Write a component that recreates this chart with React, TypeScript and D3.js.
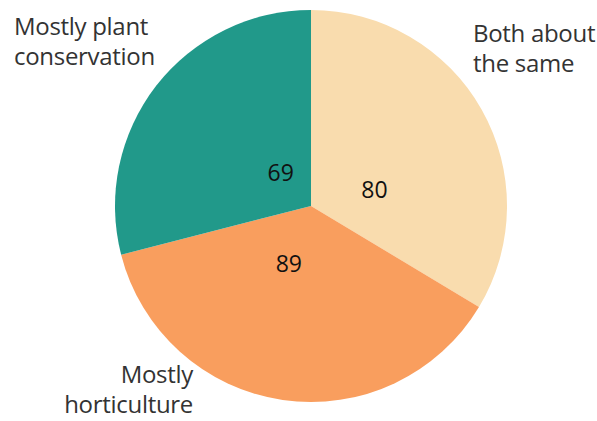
import React, { useEffect } from "react";
import * as d3 from "d3";

// Responses: which should botanic gardens focus on?
const categories = ["Both about the same", "Mostly horticulture", "Mostly plant conservation"];
const values = [80, 89, 69];
const colors = ["#f9dcae", "#f99e5e", "#21998a"];

// Outer label lines per category
const labelLines = [["Both about", "the same"], ["Mostly", "horticulture"], ["Mostly plant", "conservation"]];

const W = 597;
const H = 421;
const cx = 311;
const cy = 206;
const R = 196;

// Text placement for the category and value labels
const outerLabelLayout = [
  { x: 473, y: 42, anchor: "start" },
  { x: 193, y: 383, anchor: "end" },
  { x: 14, y: 35, anchor: "start" },
];
const valueNudge = [
  [8, 14],
  [-13, -6],
  [20, 5],
];

export default function App() {
  useEffect(() => {
    document.body.style.margin = "0";
  }, []);

  const pie = d3
    .pie<number>()
    .sort(null)
    .value((d) => d);
  const arcs = pie(values);
  const arc = d3.arc<d3.PieArcDatum<number>>().innerRadius(0).outerRadius(R);
  const labelArc = d3.arc<d3.PieArcDatum<number>>().innerRadius(0).outerRadius(R * 0.65);

  const font = "'Open Sans', 'Noto Sans', sans-serif";

  return (
    <svg width={W} height={H} style={{ display: "block", background: "#fff" }}>
      <g transform={`translate(${cx},${cy})`}>
        {arcs.map((a, i) => (
          <path key={categories[i]} d={arc(a) || ""} fill={colors[i]} />
        ))}
        {arcs.map((a, i) => {
          const [x, y] = labelArc.centroid(a);
          return (
            <text
              key={"v" + i}
              x={x + valueNudge[i][0]}
              y={y + valueNudge[i][1]}
              textAnchor="middle"
              dominantBaseline="central"
              fontFamily={font}
              fontSize={23}
              fill="#111"
            >
              {values[i]}
            </text>
          );
        })}
      </g>
      {labelLines.map((lines, i) => (
        <text
          key={"l" + i}
          x={outerLabelLayout[i].x}
          y={outerLabelLayout[i].y}
          textAnchor={outerLabelLayout[i].anchor as any}
          fontFamily={font}
          fontSize={24}
          letterSpacing={-0.3}
          fill="#333"
        >
          {lines.map((t, j) => (
            <tspan key={j} x={outerLabelLayout[i].x} dy={j === 0 ? 0 : 30}>
              {t}
            </tspan>
          ))}
        </text>
      ))}
    </svg>
  );
}
